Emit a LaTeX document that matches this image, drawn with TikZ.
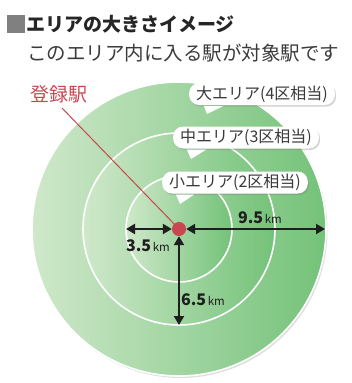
\documentclass[tikz,border=0pt]{standalone}
\usepackage{fontspec}
\setmainfont{Noto Sans CJK JP}
\usetikzlibrary{shadows,arrows.meta}
\definecolor{gl}{HTML}{CFE8CA}
\definecolor{gr}{HTML}{74C279}
\definecolor{redc}{HTML}{C9474F}
\definecolor{txt}{HTML}{3A3A3A}
\definecolor{arr}{HTML}{1E1E1E}
\tikzset{
  area/.style={draw=white, line width=1.6pt, shading=axis, left color=gl, right color=gr},
  bubble/.style={fill=white, rounded corners=10pt, minimum height=22pt, inner xsep=7pt, inner ysep=2pt, text=txt, font=\fontsize{16}{17}\selectfont},
  bshadow/.style={drop shadow={opacity=0.35, shadow xshift=1.2pt, shadow yshift=-1.6pt}},
  dist/.style={line width=2.6pt, draw=arr, {Triangle[length=9pt,width=10pt]}-{Triangle[length=9pt,width=10pt]}},
  kmlabel/.style={text=arr, inner sep=0pt}
}
\newcommand{\kmtext}[1]{{\fontsize{16}{17}\selectfont\bfseries #1}\,{\fontsize{11.5}{12}\selectfont km}}
\begin{document}
\begin{tikzpicture}[x=1pt,y=-1pt]
\useasboundingbox (0,0) rectangle (351,383);
% title
\fill[gray!75!black!80] (7,15) rectangle (25,33);
\node[anchor=west, inner sep=0pt, text=black!85, font=\fontsize{19}{20}\selectfont\bfseries] (title) at (26,24) {エリアの大きさイメージ};
\node[anchor=west, inner sep=0pt, text=txt, font=\fontsize{19.5}{21}\selectfont] (sub) at (27,53) {このエリア内に入る駅が対象駅です};
% circles
\coordinate (c) at (179,229);
\path[area, drop shadow={opacity=0.25, shadow xshift=1.5pt, shadow yshift=-2pt}] (c) circle (147);
\path[area] (c) circle (96);
\path[area] (c) circle (53);
% registered station label and line
\node[text=redc, inner sep=0pt, font=\fontsize{19}{20}\selectfont] (reg) at (59,94) {登録駅};
\coordinate (regend) at (62,108);
\draw[redc, line width=1pt] (regend) -- (c);
% bubbles
\node[bubble, bshadow] (bbig) at (262,94) {大エリア(4区相当)};
\node[bubble, bshadow] (bmid) at (246,137.5) {中エリア(3区相当)};
\node[bubble, bshadow] (bsml) at (235,182.5) {小エリア(2区相当)};
\coordinate (tbig) at (207,114);
\coordinate (tmid) at (191,159);
\coordinate (tsml) at (180,204);
\fill[white] ([xshift=15pt,yshift=-1pt]bbig.south west) -- (tbig) -- ([xshift=34pt,yshift=-1pt]bbig.south west) -- cycle;
\fill[white] ([xshift=14pt,yshift=-1pt]bmid.south west) -- (tmid) -- ([xshift=33pt,yshift=-1pt]bmid.south west) -- cycle;
\fill[white] ([xshift=14pt,yshift=-1pt]bsml.south west) -- (tsml) -- ([xshift=32pt,yshift=-1pt]bsml.south west) -- cycle;
% station dot
\node[circle, fill=redc, minimum size=14pt, inner sep=0pt] (dot) at (c) {};
% arrows
\coordinate (inl) at (126,229);
\coordinate (outr) at (325,229);
\coordinate (midb) at (179,325);
\draw[dist] (inl) -- (dot.west);
\draw[dist] (dot.east) -- (outr);
\draw[dist] (dot.south) -- (midb);
\node[kmlabel] (k35) at (148,246) {\kmtext{3.5}};
\node[kmlabel] (k95) at (260,218) {\kmtext{9.5}};
\node[kmlabel] (k65) at (203,300) {\kmtext{6.5}};
\end{tikzpicture}
\end{document}
